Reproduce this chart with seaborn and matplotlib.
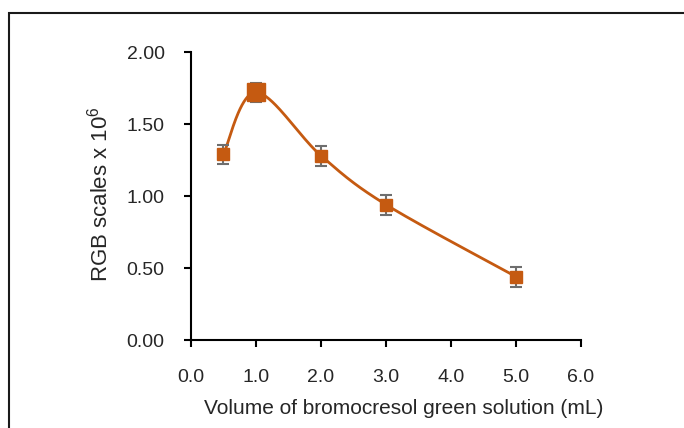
import numpy as np
import matplotlib
matplotlib.use("Agg")
import matplotlib.pyplot as plt
import seaborn as sns
from matplotlib.patches import Rectangle

# Volume of bromocresol green vs RGB response
volume_ml = [0.5, 1.0, 2.0, 3.0, 5.0]
rgb_scale = [1.29, 1.72, 1.28, 0.94, 0.44]
rgb_err = [0.065, 0.065, 0.07, 0.07, 0.07]

x_ticks = [0, 1, 2, 3, 4, 5, 6]
y_ticks = [0.0, 0.5, 1.0, 1.5, 2.0]

sns.set_style("ticks")
plt.rcParams["font.family"] = ["Liberation Sans", "DejaVu Sans"]
plt.rcParams["mathtext.fontset"] = "custom"
plt.rcParams["mathtext.rm"] = "Liberation Sans"

orange = "#C55A11"
grey = "#6E6E6E"

fig = plt.figure(figsize=(6.84, 4.28), dpi=100)
ax = fig.add_axes([0.2792, 0.2056, 0.5702, 0.6729])

# Excel style smoothed line (Bezier through points, computed in screen space)
px = np.array(volume_ml) / 6 * 390
py = np.array(rgb_scale) / 2 * 288
pts = np.column_stack([px, py])
ext = np.vstack([pts[0], pts, pts[-1]])
curve = []
t = np.linspace(0, 1, 60)[:, None]
for i in range(len(pts) - 1):
    p0, p1, p2, p3 = ext[i], ext[i + 1], ext[i + 2], ext[i + 3]
    c1 = p1 + (p2 - p0) / 6
    c2 = p2 - (p3 - p1) / 6
    seg = ((1 - t) ** 3) * p1 + 3 * ((1 - t) ** 2) * t * c1 + 3 * (1 - t) * t ** 2 * c2 + t ** 3 * p2
    curve.append(seg)
curve = np.vstack(curve)
sns.lineplot(x=curve[:, 0] / 390 * 6, y=curve[:, 1] / 288 * 2, sort=False,
             color=orange, linewidth=2, ax=ax, zorder=2)

ax.errorbar(volume_ml, rgb_scale, yerr=rgb_err, fmt="none", ecolor=grey,
            elinewidth=1.5, capsize=4, capthick=1.5, zorder=3)
sizes = [9, 13, 9, 9, 9]
for xv, yv, s in zip(volume_ml, rgb_scale, sizes):
    ax.plot(xv, yv, marker="s", markersize=s, color=orange, linestyle="none", zorder=4)

ax.set_xlim(0, 6)
ax.set_ylim(0, 2)
ax.set_xticks(x_ticks)
ax.set_xticklabels([f"{v:.1f}" for v in x_ticks])
ax.set_yticks(y_ticks)
ax.set_yticklabels([f"{v:.2f}" for v in y_ticks])
ax.tick_params(axis="both", direction="out", length=5, width=1.5, color="black",
               labelsize=14)
ax.tick_params(axis="x", pad=16)
ax.tick_params(axis="y", pad=14)
for side in ["left", "bottom"]:
    ax.spines[side].set_linewidth(1.5)
    ax.spines[side].set_color("black")
sns.despine(ax=ax)

ax.set_xlabel("Volume of bromocresol green solution (mL)", fontsize=15)
ax.set_ylabel(r"RGB scales x 10$^{6}$", fontsize=16)
ax.xaxis.set_label_coords(0.545, -0.205)
ax.yaxis.set_label_coords(-0.20, 0.507)

fig.patches.append(Rectangle((9 / 684, -0.1), 1.2, 1 - 13.5 / 428 + 0.1,
                             transform=fig.transFigure, fill=False,
                             edgecolor="#1a1a1a", linewidth=1.5))

fig.savefig("out.png", dpi=100)
